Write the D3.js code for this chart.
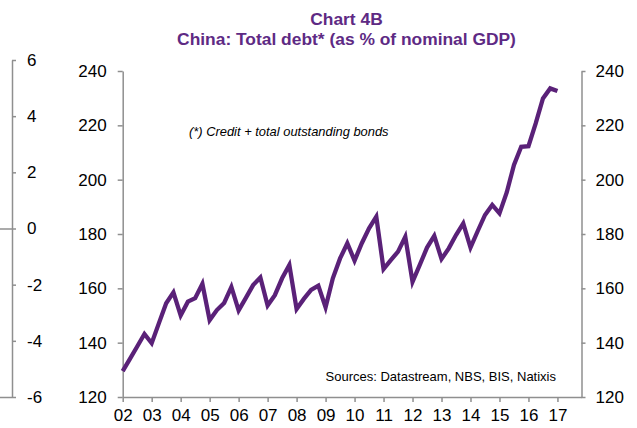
<!DOCTYPE html>
<html>
<head>
<meta charset="utf-8">
<script src="https://cdn.jsdelivr.net/npm/d3@7"></script>
<style>
  html, body { margin: 0; padding: 0; background: #fff; }
  svg { display: block; font-family: "Liberation Sans", Arial, sans-serif; }
</style>
</head>
<body>
<svg id="chart" width="637" height="428"></svg>
<script>
// China: total debt (credit + outstanding bonds) as % of nominal GDP, quarterly from 2002 Q1
const startYear = 2002;
const debtRatio = [
  129.5, 134.0, 138.6, 143.2, 139.8, 147.2, 154.5, 158.5,
  150.0, 155.1, 156.4, 161.7, 148.3, 152.0, 154.6, 160.5,
  151.9, 156.5, 161.2, 164.0, 153.7, 157.5, 163.7, 168.6,
  152.4, 156.1, 159.4, 161.0, 153.0, 163.7, 171.0, 176.6,
  170.2, 176.6, 182.1, 186.4, 167.1, 170.4, 173.5, 179.0,
  162.4, 168.6, 175.0, 179.3, 170.8, 174.7, 179.6, 183.9,
  175.0, 181.1, 187.0, 190.7, 187.6, 195.3, 205.4, 212.1,
  212.3, 220.7, 229.9, 233.6, 232.6
];
const yearTicks = [2002, 2003, 2004, 2005, 2006, 2007, 2008, 2009, 2010,
                   2011, 2012, 2013, 2014, 2015, 2016, 2017];
const yearLabels = ["02", "03", "04", "05", "06", "07", "08", "09", "10",
                    "11", "12", "13", "14", "15", "16", "17"];
const debtTicks = [120, 140, 160, 180, 200, 220, 240];
// axis of the neighbouring panel, cut off at the left edge
const sideTicks = [-6, -4, -2, 0, 2, 4, 6];

const titleLines = ["Chart 4B", "China: Total debt* (as % of nominal GDP)"];
const footnote = "(*) Credit + total outstanding bonds";
const sources = "Sources: Datastream, NBS, BIS, Natixis";

const purple = "#5a2178";
const titlePurple = "#5e2a84";
const axisGrey = "#8f8f8f";

const svg = d3.select("#chart");

const plot = { left: 122.7, right: 581.5, top: 71, bottom: 397 };

const x = d3.scaleLinear()
  .domain([2002, 2017.83])
  .range([plot.left, plot.right]);
const y = d3.scaleLinear()
  .domain([120, 240])
  .range([plot.bottom, plot.top]);
const ySide = d3.scaleLinear()
  .domain([-6, 6])
  .range([397, 60]);

function styleAxis(g) {
  g.selectAll("path.domain").attr("stroke", axisGrey).attr("stroke-width", 1.5);
  g.selectAll(".tick line").attr("stroke", axisGrey).attr("stroke-width", 1.5);
  g.selectAll(".tick text")
    .attr("fill", "#000")
    .style("font-size", "17px")
    .style("font-family", "Liberation Sans, Arial, sans-serif");
}

// Left partial axis (plain hyphen for negatives)
const side = svg.append("g")
  .attr("transform", "translate(12,0)")
  .call(d3.axisRight(ySide).tickValues(sideTicks).tickSize(4).tickSizeOuter(0)
    .tickFormat(d => String(d)).tickPadding(11));
styleAxis(side);
side.selectAll(".tick").filter(d => d === 0 || d === -6)
  .append("line").attr("x1", -12).attr("x2", 0)
  .attr("stroke", axisGrey).attr("stroke-width", 1.5);

// Main left axis
const yLeft = svg.append("g")
  .attr("transform", `translate(${plot.left},0)`)
  .call(d3.axisLeft(y).tickValues(debtTicks).tickSize(5).tickSizeOuter(0).tickPadding(11));
styleAxis(yLeft);

// Right axis
const yRight = svg.append("g")
  .attr("transform", `translate(${plot.right},0)`)
  .call(d3.axisRight(y).tickValues(debtTicks).tickSize(4).tickSizeOuter(0).tickPadding(10));
styleAxis(yRight);

// Bottom axis
const xAxis = svg.append("g")
  .attr("transform", `translate(0,${plot.bottom})`)
  .call(d3.axisBottom(x).tickValues(yearTicks).tickSize(5).tickSizeOuter(0)
    .tickFormat((d, i) => yearLabels[i]).tickPadding(7));
styleAxis(xAxis);

// Debt series
const line = d3.line()
  .x((d, i) => x(startYear + i / 4))
  .y(d => y(d));

svg.append("path")
  .datum(debtRatio)
  .attr("d", line)
  .attr("fill", "none")
  .attr("stroke", purple)
  .attr("stroke-width", 4.3)
  .attr("stroke-linejoin", "miter")
  .attr("stroke-linecap", "butt");

// Title
svg.append("g").selectAll("text")
  .data(titleLines)
  .join("text")
  .attr("x", 346.5)
  .attr("y", (d, i) => 25 + i * 20)
  .attr("text-anchor", "middle")
  .attr("fill", titlePurple)
  .style("font-size", "17.4px")
  .style("font-weight", "bold")
  .text(d => d);

// Notes
svg.append("text")
  .attr("x", 189)
  .attr("y", 135.5)
  .attr("fill", "#000")
  .style("font-size", "12.9px")
  .style("font-style", "italic")
  .text(footnote);

svg.append("text")
  .attr("x", 556)
  .attr("y", 380.5)
  .attr("text-anchor", "end")
  .attr("fill", "#000")
  .style("font-size", "13px")
  .text(sources);
</script>
</body>
</html>
